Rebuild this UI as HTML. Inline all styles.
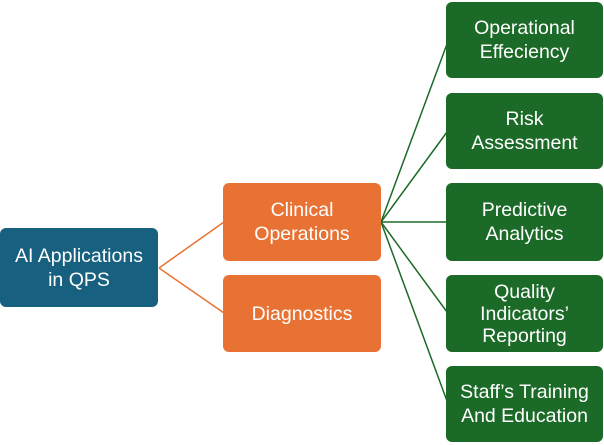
<!DOCTYPE html>
<html><head><style>
body{margin:0;width:604px;height:445px;background:#fff;position:relative;overflow:hidden;font-family:"Liberation Sans",sans-serif}
.b{position:absolute;border-radius:6px;color:#fff;display:flex;align-items:center;justify-content:center;text-align:center;font-size:19.5px;line-height:24px}
.blue{background:#17607f}.or{background:#e87234}.gr{background:#1c6a28}
svg{position:absolute;left:0;top:0}
</style></head><body>
<svg width="604" height="445">
<g stroke="#e87234" stroke-width="1.5" fill="none">
<line x1="159" y1="268" x2="224" y2="222"/><line x1="159" y1="268" x2="224" y2="313"/>
</g>
<g stroke="#1c6a28" stroke-width="1.5" fill="none">
<line x1="381" y1="222" x2="447" y2="44"/><line x1="381" y1="222" x2="447" y2="132"/>
<line x1="381" y1="222" x2="447" y2="222"/><line x1="381" y1="222" x2="447" y2="312"/>
<line x1="381" y1="222" x2="447" y2="401"/>
</g>
</svg>
<div class="b blue" style="left:0;top:228px;width:158px;height:79px">AI Applications<br>in QPS</div>
<div class="b or" style="left:223px;top:183px;width:158px;height:78px">Clinical<br>Operations</div>
<div class="b or" style="left:223px;top:275px;width:158px;height:77px">Diagnostics</div>
<div class="b gr" style="left:446px;top:2px;width:157px;height:76px">Operational<br>Effeciency</div>
<div class="b gr" style="left:446px;top:93px;width:157px;height:76px">Risk<br>Assessment</div>
<div class="b gr" style="left:446px;top:183px;width:157px;height:78px">Predictive<br>Analytics</div>
<div class="b gr" style="left:446px;top:275px;width:157px;height:77px;line-height:22px">Quality<br>Indicators’<br>Reporting</div>
<div class="b gr" style="left:446px;top:366px;width:157px;height:76px">Staff’s Training<br>And Education</div>
</body></html>
